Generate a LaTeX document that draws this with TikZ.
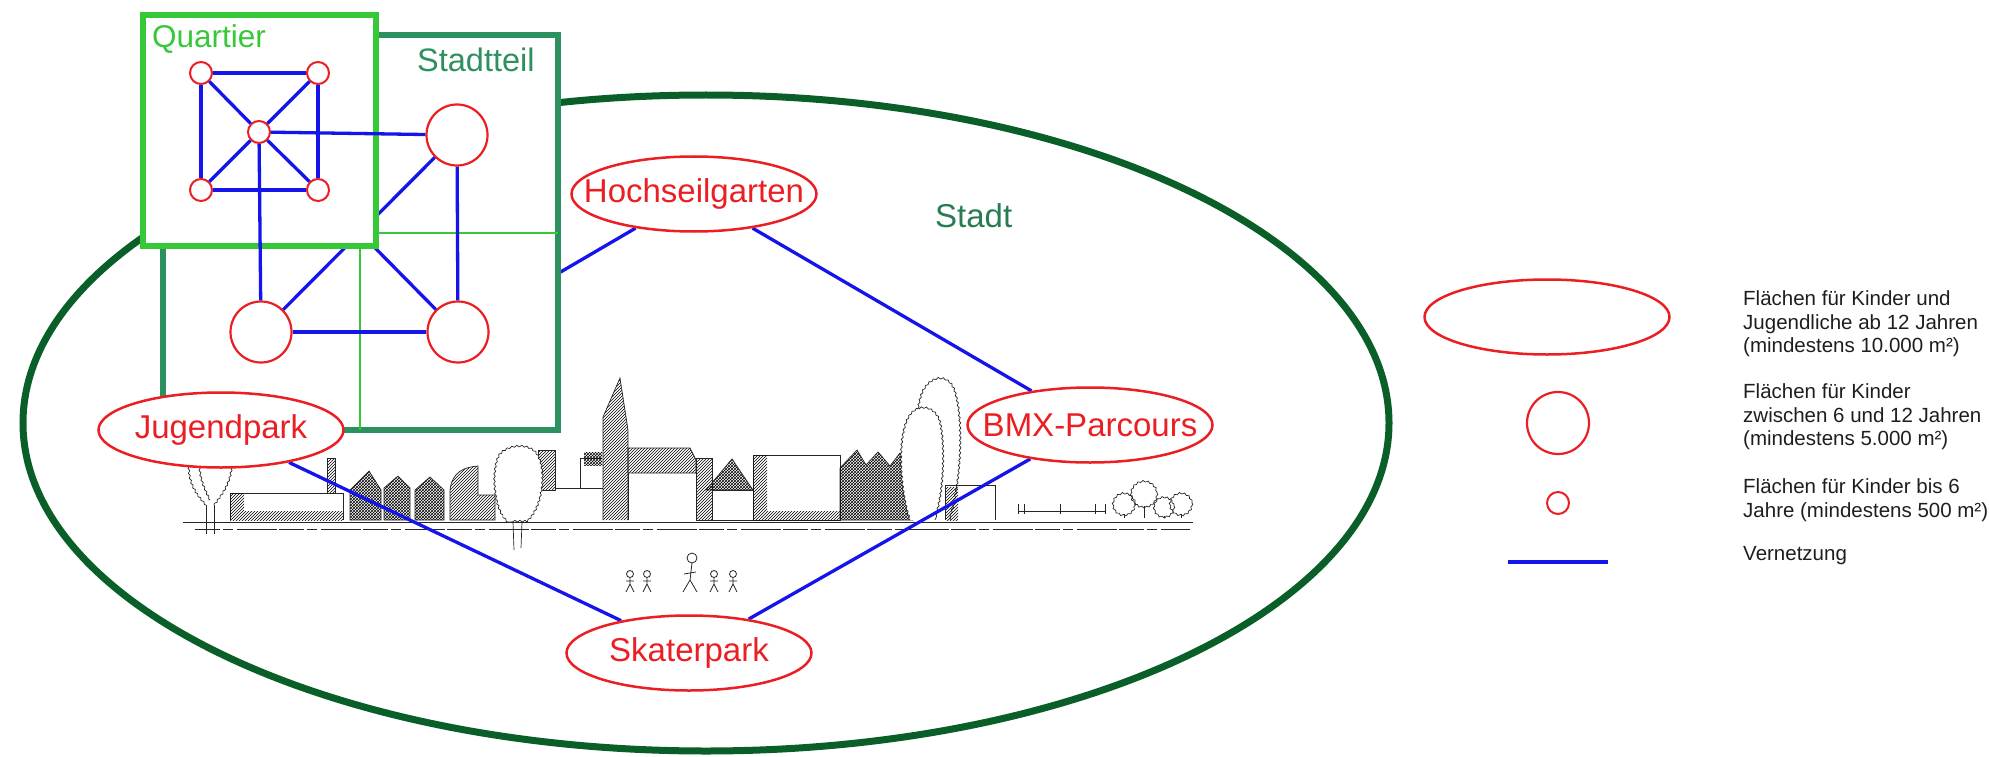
\documentclass[tikz,border=0pt]{standalone}
\usepackage{fontspec}
\setmainfont{Liberation Sans}
\usetikzlibrary{shapes.geometric,patterns,decorations.pathmorphing}

\definecolor{quartiergreen}{RGB}{55,200,55}
\definecolor{teilgreen}{RGB}{45,145,95}
\definecolor{stadtgreen}{RGB}{10,95,40}
\definecolor{stadttext}{RGB}{40,125,80}
\definecolor{netblue}{RGB}{20,20,235}
\definecolor{areared}{RGB}{235,30,35}
\definecolor{inkgray}{RGB}{30,30,30}

\newcommand\setfs[1]{\fontsize{#1}{#1}\selectfont}
\newcommand\slim[1]{\makebox[0pt]{#1}}

\pgfdeclarelayer{bg}
\pgfdeclarelayer{citynet}
\pgfdeclarelayer{teil}
\pgfdeclarelayer{teilnet}
\pgfdeclarelayer{quart}
\pgfsetlayers{bg,citynet,teil,teilnet,quart,main}

\begin{document}
\begin{tikzpicture}[x=1pt,y=-1pt,
  net/.style={draw=netblue, line width=3.3pt},
  parkarea/.style={ellipse, draw=areared, fill=white, line width=2.5pt,
    minimum width=245pt, minimum height=75pt, inner sep=0pt,
    text=areared, font=\setfs{33}},
  bigplay/.style={circle, draw=areared, fill=white, line width=2.2pt,
    minimum size=61pt, inner sep=0pt},
  smallplay/.style={circle, draw=areared, fill=white, line width=2pt,
    minimum size=22pt, inner sep=0pt},
  sketch/.style={draw=black!85, line width=0.7pt},
  hatch/.style={pattern=north east lines, pattern color=black},
  xhatch/.style={pattern=crosshatch, pattern color=black},
  wavy/.style={decorate, decoration={snake, amplitude=0.8pt, segment length=5pt}},
  stickman/.style={draw=black!85, line width=0.8pt},
  gridline/.style={draw=quartiergreen, line width=2.2pt},
  label/.style={anchor=base west, inner sep=0pt},
  legendtext/.style={anchor=base west, inner sep=0pt, text=inkgray, font=\setfs{20.5}},
]
\useasboundingbox (0,0) rectangle (1989,757);

% ---------------- city outline and skyline sketch
\begin{pgfonlayer}{bg}
  \node[ellipse, draw=stadtgreen, line width=7pt, minimum width=1366pt,
        minimum height=656pt, inner sep=0pt] (stadt) at (706,423) {};

  % ground
  \draw[sketch] (183,522) -- (1193,522);
  \draw[sketch, line width=0.5pt, dash pattern=on 25pt off 3pt on 10pt off 4pt on 40pt off 2pt]
    (195,529) -- (1190,529);

  % small poplar on the left
  \draw[sketch] (206,534) -- (206,505);
  \draw[sketch] (214,534) -- (214,505);
  \draw[sketch, wavy] (206,505) .. controls (194,492) and (188,480) .. (190,460);
  \draw[sketch, wavy] (214,505) .. controls (224,492) and (232,480) .. (231,460);
  \draw[sketch, wavy] (210,500) .. controls (204,488) and (200,478) .. (200,465);

  % long low building with chimney
  \draw[sketch] (230,520) -- (230,493) -- (343,493) -- (343,520);
  \fill[hatch] (230,493) rectangle (244,520);
  \fill[hatch] (244,511) rectangle (343,520);
  \draw[sketch, hatch] (327,458) rectangle (335,493);

  % gabled houses
  \draw[sketch, xhatch] (350,520) -- (350,490) -- (369,471) -- (381,490) -- (381,520) -- cycle;
  \draw[sketch, xhatch] (384,520) -- (384,488) -- (398,476) -- (410,488) -- (410,520) -- cycle;
  \draw[sketch, xhatch] (415,520) -- (415,490) -- (430,477) -- (444,490) -- (444,520) -- cycle;
  \draw[sketch, hatch] (450,520) -- (450,490) .. controls (452,472) and (464,467) .. (478,466)
    -- (478,495) -- (495,495) -- (495,520) -- cycle;

  % block behind the big tree, wall and small house
  \draw[sketch, hatch] (538,450) rectangle (555,490);
  \draw[sketch] (555,488) -- (603,488);
  \draw[sketch] (580,488) -- (580,458) -- (602,458);
  \fill[xhatch] (584,452) rectangle (602,465);

  % big tree
  \draw[sketch, wavy, fill=white] (508,522) .. controls (494,510) and (492,470) .. (500,456)
    .. controls (506,446) and (530,442) .. (538,455) .. controls (548,470) and (544,508) .. (528,522) -- cycle;
  \draw[sketch] (513,522) -- (514,550);
  \draw[sketch] (522,522) -- (521,548);

  % church spire
  \draw[sketch, hatch] (603,520) -- (603,417) -- (620,378) -- (628,430) -- (628,520);

  % building with hatched roof
  \draw[sketch, hatch] (628,448) -- (690,448) -- (696,460) -- (696,473) -- (628,473) -- cycle;
  \draw[sketch] (628,473) -- (628,520) (696,473) -- (696,520);

  % hatched block, gable and low building
  \draw[sketch, hatch] (696,458) rectangle (712,520);
  \draw[sketch, xhatch] (706,490) -- (732,459) -- (753,490) -- cycle;
  \draw[sketch] (712,490) rectangle (753,520);

  % flat roofed block
  \draw[sketch] (753,455) rectangle (840,520);
  \fill[hatch] (753,455) rectangle (767,520);
  \fill[hatch] (767,511) rectangle (840,520);

  % row of hatched gables
  \draw[sketch, xhatch] (840,520) -- (840,468) -- (857,450) -- (866,465) -- (878,452) -- (890,466)
    -- (900,453) -- (913,470) -- (913,520) -- cycle;

  % pair of poplars
  \draw[sketch, wavy, fill=white] (928,520) .. controls (918,480) and (912,420) .. (922,395)
    .. controls (928,378) and (948,372) .. (955,392) .. controls (964,420) and (962,480) .. (950,520);
  \draw[sketch, wavy, fill=white] (910,520) .. controls (900,490) and (898,440) .. (908,420)
    .. controls (914,405) and (934,404) .. (940,422) .. controls (946,445) and (944,495) .. (935,520);

  % small building on the right
  \draw[sketch] (945,520) -- (945,485) -- (995,485) -- (995,520);
  \fill[hatch] (946,487) rectangle (958,520);

  % fence
  \draw[sketch] (1018,511) -- (1105,511);
  \foreach \px in {1018,1024,1060,1095,1105}
    \draw[sketch] (\px,504) -- (\px,514);

  % shrubs
  \foreach \cx/\cy/\rad in {1124/503/11, 1144/493/13, 1164/506/10, 1181/503/11}{
    \draw[sketch, wavy] (\cx,\cy) circle (\rad);
    \draw[sketch] (\cx,\cy+\rad) -- (\cx,518);
  }

  % people
  \foreach \fx in {630,647,714,733}{
    \draw[stickman] (\fx,574) circle (3.5);
    \draw[stickman] (\fx,577.5) -- (\fx,584) (\fx-4,581) -- (\fx+4,581)
      (\fx-4,592) -- (\fx,584) -- (\fx+4,592);
  }
  \draw[stickman] (692,558) circle (5);
  \draw[stickman] (692,563) -- (690,580) (683,592) -- (690,580) -- (697,592) (684,574) -- (696,572);
\end{pgfonlayer}

% ---------------- districts
\begin{pgfonlayer}{teil}
  \node[draw=teilgreen, fill=white, line width=5.5pt, minimum width=395pt, minimum height=395pt,
        inner sep=0pt] (stadtteil) at (360.5,232.5) {};
  \draw[gridline] (163,233) -- (558,233);
  \draw[gridline] (360,35) -- (360,430);
  \node[label, text=teilgreen, font=\setfs{32.5}] (stadtteillabel) at (417,72) {Stadtteil};
\end{pgfonlayer}

\begin{pgfonlayer}{quart}
  \node[draw=quartiergreen, fill=white, line width=6pt, minimum width=233pt, minimum height=230pt,
        inner sep=0pt] (quartier) at (259,130.5) {};
  \node[label, text=quartiergreen, font=\setfs{31.5}] (quartierlabel) at (152,48) {Quartier};
\end{pgfonlayer}

\node[label, text=stadttext, font=\setfs{33}] (stadtlabel) at (935,227) {Stadt};

% ---------------- play areas
\node[smallplay] (qTL) at (201,73) {};
\node[smallplay] (qTR) at (318,73) {};
\node[smallplay] (qC)  at (259,132) {};
\node[smallplay] (qBL) at (201,190) {};
\node[smallplay] (qBR) at (318,190) {};

\node[bigplay] (sTR) at (457,135) {};
\node[bigplay] (sBL) at (261,332) {};
\node[bigplay] (sBR) at (458,332) {};

\node[parkarea] (hoch)    at (694,194) {\slim{Hochseilgarten}};
\node[parkarea] (jugend)  at (221,430) {\slim{Jugendpark}};
\node[parkarea] (bmx)     at (1090,425) {\slim{BMX-Parcours}};
\node[parkarea] (skater)  at (689,653) {\slim{Skaterpark}};

% ---------------- network
\begin{pgfonlayer}{citynet}
  \draw[net] (hoch) -- (sBR);
  \draw[net] (hoch) -- (bmx);
  \draw[net] (bmx) -- (skater);
  \draw[net] (jugend) -- (skater);
\end{pgfonlayer}

\begin{pgfonlayer}{teilnet}
  \draw[net] (sBL) -- (sTR);
  \draw[net] (qBR) -- (sBR);
  \draw[net] (sTR) -- (sBR);
  \draw[net] (sBL) -- (sBR);
\end{pgfonlayer}

\draw[net] (qC) -- (sTR);
\draw[net] (qC) -- (sBL);
\draw[net] (qTL) -- (qTR);
\draw[net] (qTL) -- (qBL);
\draw[net] (qTR) -- (qBR);
\draw[net] (qBL) -- (qBR);
\draw[net] (qTL) -- (qC);
\draw[net] (qTR) -- (qC);
\draw[net] (qBL) -- (qC);
\draw[net] (qBR) -- (qC);

% ---------------- legend
\node[parkarea] (legendpark) at (1547,317) {};
\node[bigplay, minimum size=62pt] (legendplay) at (1558,423) {};
\node[smallplay] (legendsmall) at (1558,503) {};
\coordinate (legendA) at (1508,562);
\coordinate (legendB) at (1608,562);
\draw[net, line width=4pt] (legendA) -- (legendB);

\node[legendtext] (l1) at (1743,305) {Flächen für Kinder und};
\node[legendtext] (l2) at (1743,329) {Jugendliche ab 12 Jahren};
\node[legendtext] (l3) at (1743,352) {(mindestens 10.000 m²)};
\node[legendtext] (l4) at (1743,398) {Flächen für Kinder};
\node[legendtext] (l5) at (1743,422) {zwischen 6 und 12 Jahren};
\node[legendtext] (l6) at (1743,445) {(mindestens 5.000 m²)};
\node[legendtext] (l7) at (1743,493) {Flächen für Kinder bis 6};
\node[legendtext] (l8) at (1743,517) {Jahre (mindestens 500 m²)};
\node[legendtext] (l9) at (1743,560) {Vernetzung};
\end{tikzpicture}
\end{document}
